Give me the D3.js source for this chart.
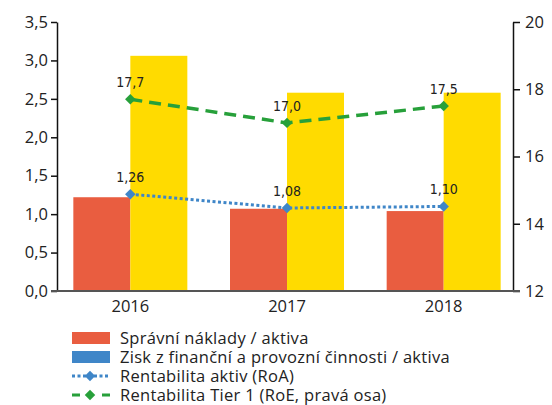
<!DOCTYPE html>
<html>
<head>
<meta charset="utf-8">
<script src="https://cdn.jsdelivr.net/npm/d3@7"></script>
<style>
  body { margin: 0; background: #fff; }
  text { font-family: "Open Sans", "Noto Sans", sans-serif; fill: #222; }
  .val { font-family: "Liberation Sans Narrow", "DejaVu Sans Condensed", sans-serif; font-size: 14px; }
</style>
</head>
<body>
<script>
const width = 552;
const height = 405;

const years = ["2016", "2017", "2018"];
const spravniNaklady = [1.22, 1.07, 1.04];
const ziskAktiva = [3.06, 2.58, 2.58];
const roa = [1.26, 1.08, 1.10];
const roe = [17.7, 17.0, 17.5];
const leftTicks = [0, 0.5, 1, 1.5, 2, 2.5, 3, 3.5];
const rightTicks = [12, 14, 16, 18, 20];

const red = "#e95d40";
const yellow = "#ffdb00";
const blue = "#3f86c8";
const green = "#27a03a";

const fmt = (v, d) => v.toFixed(d).replace(".", ",");

const svg = d3.select("body").append("svg")
  .attr("width", width)
  .attr("height", height);

const plotLeft = 57, plotRight = 513, plotTop = 22, plotBottom = 291;

const x = d3.scaleBand().domain(years).range([52, 522]);
const y = d3.scaleLinear().domain([0, 3.5]).range([plotBottom, plotTop]);
const y2 = d3.scaleLinear().domain([12, 20]).range([plotBottom, plotTop]);
const barW = 57;

// bars
svg.append("g").selectAll("rect")
  .data(years)
  .join("rect")
  .attr("x", d => x(d) + x.bandwidth() / 2 - barW)
  .attr("y", (d, i) => y(spravniNaklady[i]))
  .attr("width", barW)
  .attr("height", (d, i) => plotBottom - y(spravniNaklady[i]))
  .attr("fill", red);

svg.append("g").selectAll("rect")
  .data(years)
  .join("rect")
  .attr("x", d => x(d) + x.bandwidth() / 2)
  .attr("y", (d, i) => y(ziskAktiva[i]))
  .attr("width", barW)
  .attr("height", (d, i) => plotBottom - y(ziskAktiva[i]))
  .attr("fill", yellow);

// axes
const yAxis = svg.append("g")
  .attr("transform", `translate(${plotLeft},0)`)
  .call(d3.axisLeft(y).tickValues(leftTicks).tickSize(6).tickSizeOuter(0).tickFormat(d => fmt(d, 1)));
const y2Axis = svg.append("g")
  .attr("transform", `translate(${plotRight},0)`)
  .call(d3.axisRight(y2).tickValues(rightTicks).tickSize(7).tickSizeOuter(0).tickFormat(d => d));
[yAxis, y2Axis].forEach(a => {
  a.selectAll("path, line").attr("stroke", "#111").attr("stroke-width", 1.5);
  a.selectAll("text").attr("font-size", 16.5).attr("fill", "#222");
});
yAxis.selectAll("text").attr("x", -9);
y2Axis.selectAll("text").attr("x", 12);

svg.append("line")
  .attr("x1", 51).attr("x2", plotRight + 7)
  .attr("y1", plotBottom).attr("y2", plotBottom)
  .attr("stroke", "#555").attr("stroke-width", 2);

svg.append("g").selectAll("text")
  .data(years)
  .join("text")
  .attr("x", d => x(d) + x.bandwidth() / 2)
  .attr("y", 312)
  .attr("text-anchor", "middle")
  .attr("font-size", 16.5)
  .text(d => d);

// lines
const cx = d => x(d) + x.bandwidth() / 2;
const diamond = d3.symbol().type(d3.symbolDiamond2).size(70);

function series(vals, scale, color, dash, digits) {
  const pts = years.map((d, i) => [cx(d), scale(vals[i])]);
  svg.append("path")
    .attr("d", d3.line()(pts))
    .attr("fill", "none")
    .attr("stroke", color)
    .attr("stroke-width", dash === "dot" ? 3 : 3.5)
    .attr("stroke-dasharray", dash === "dot" ? "3,2.5" : "12,7");
  svg.append("g").selectAll("path")
    .data(pts)
    .join("path")
    .attr("transform", p => `translate(${p[0]},${p[1]})`)
    .attr("d", diamond)
    .attr("fill", color);
  svg.append("g").selectAll("text")
    .data(pts)
    .join("text")
    .attr("class", "val")
    .attr("x", p => p[0])
    .attr("y", p => p[1] - 12)
    .attr("text-anchor", "middle")
    .text((p, i) => fmt(vals[i], digits));
}
series(roa, y, blue, "dot", 2);
series(roe, y2, green, "dash", 1);

// legend
const legend = [
  { label: "Správní náklady / aktiva", type: "rect", color: red },
  { label: "Zisk z finanční a provozní činnosti / aktiva", type: "rect", color: blue },
  { label: "Rentabilita aktiv (RoA)", type: "dot", color: blue },
  { label: "Rentabilita Tier 1 (RoE, pravá osa)", type: "dash", color: green }
];
const lg = svg.append("g").selectAll("g")
  .data(legend)
  .join("g")
  .attr("transform", (d, i) => `translate(72,${338 + i * 19})`);
lg.filter(d => d.type === "rect").append("rect")
  .attr("x", 0).attr("y", -6).attr("width", 38).attr("height", 12)
  .attr("fill", d => d.color);
lg.filter(d => d.type !== "rect").append("line")
  .attr("x1", 0).attr("x2", 38).attr("y1", 0).attr("y2", 0)
  .attr("stroke", d => d.color).attr("stroke-width", 3)
  .attr("stroke-dasharray", d => d.type === "dot" ? "3,2.5" : "8,22");
lg.filter(d => d.type !== "rect").append("path")
  .attr("transform", "translate(18,0)")
  .attr("d", diamond)
  .attr("fill", d => d.color);
lg.append("text")
  .attr("x", 48).attr("y", 6)
  .attr("font-size", 16.5)
  .attr("letter-spacing", 0.3)
  .text(d => d.label);
</script>
</body>
</html>
